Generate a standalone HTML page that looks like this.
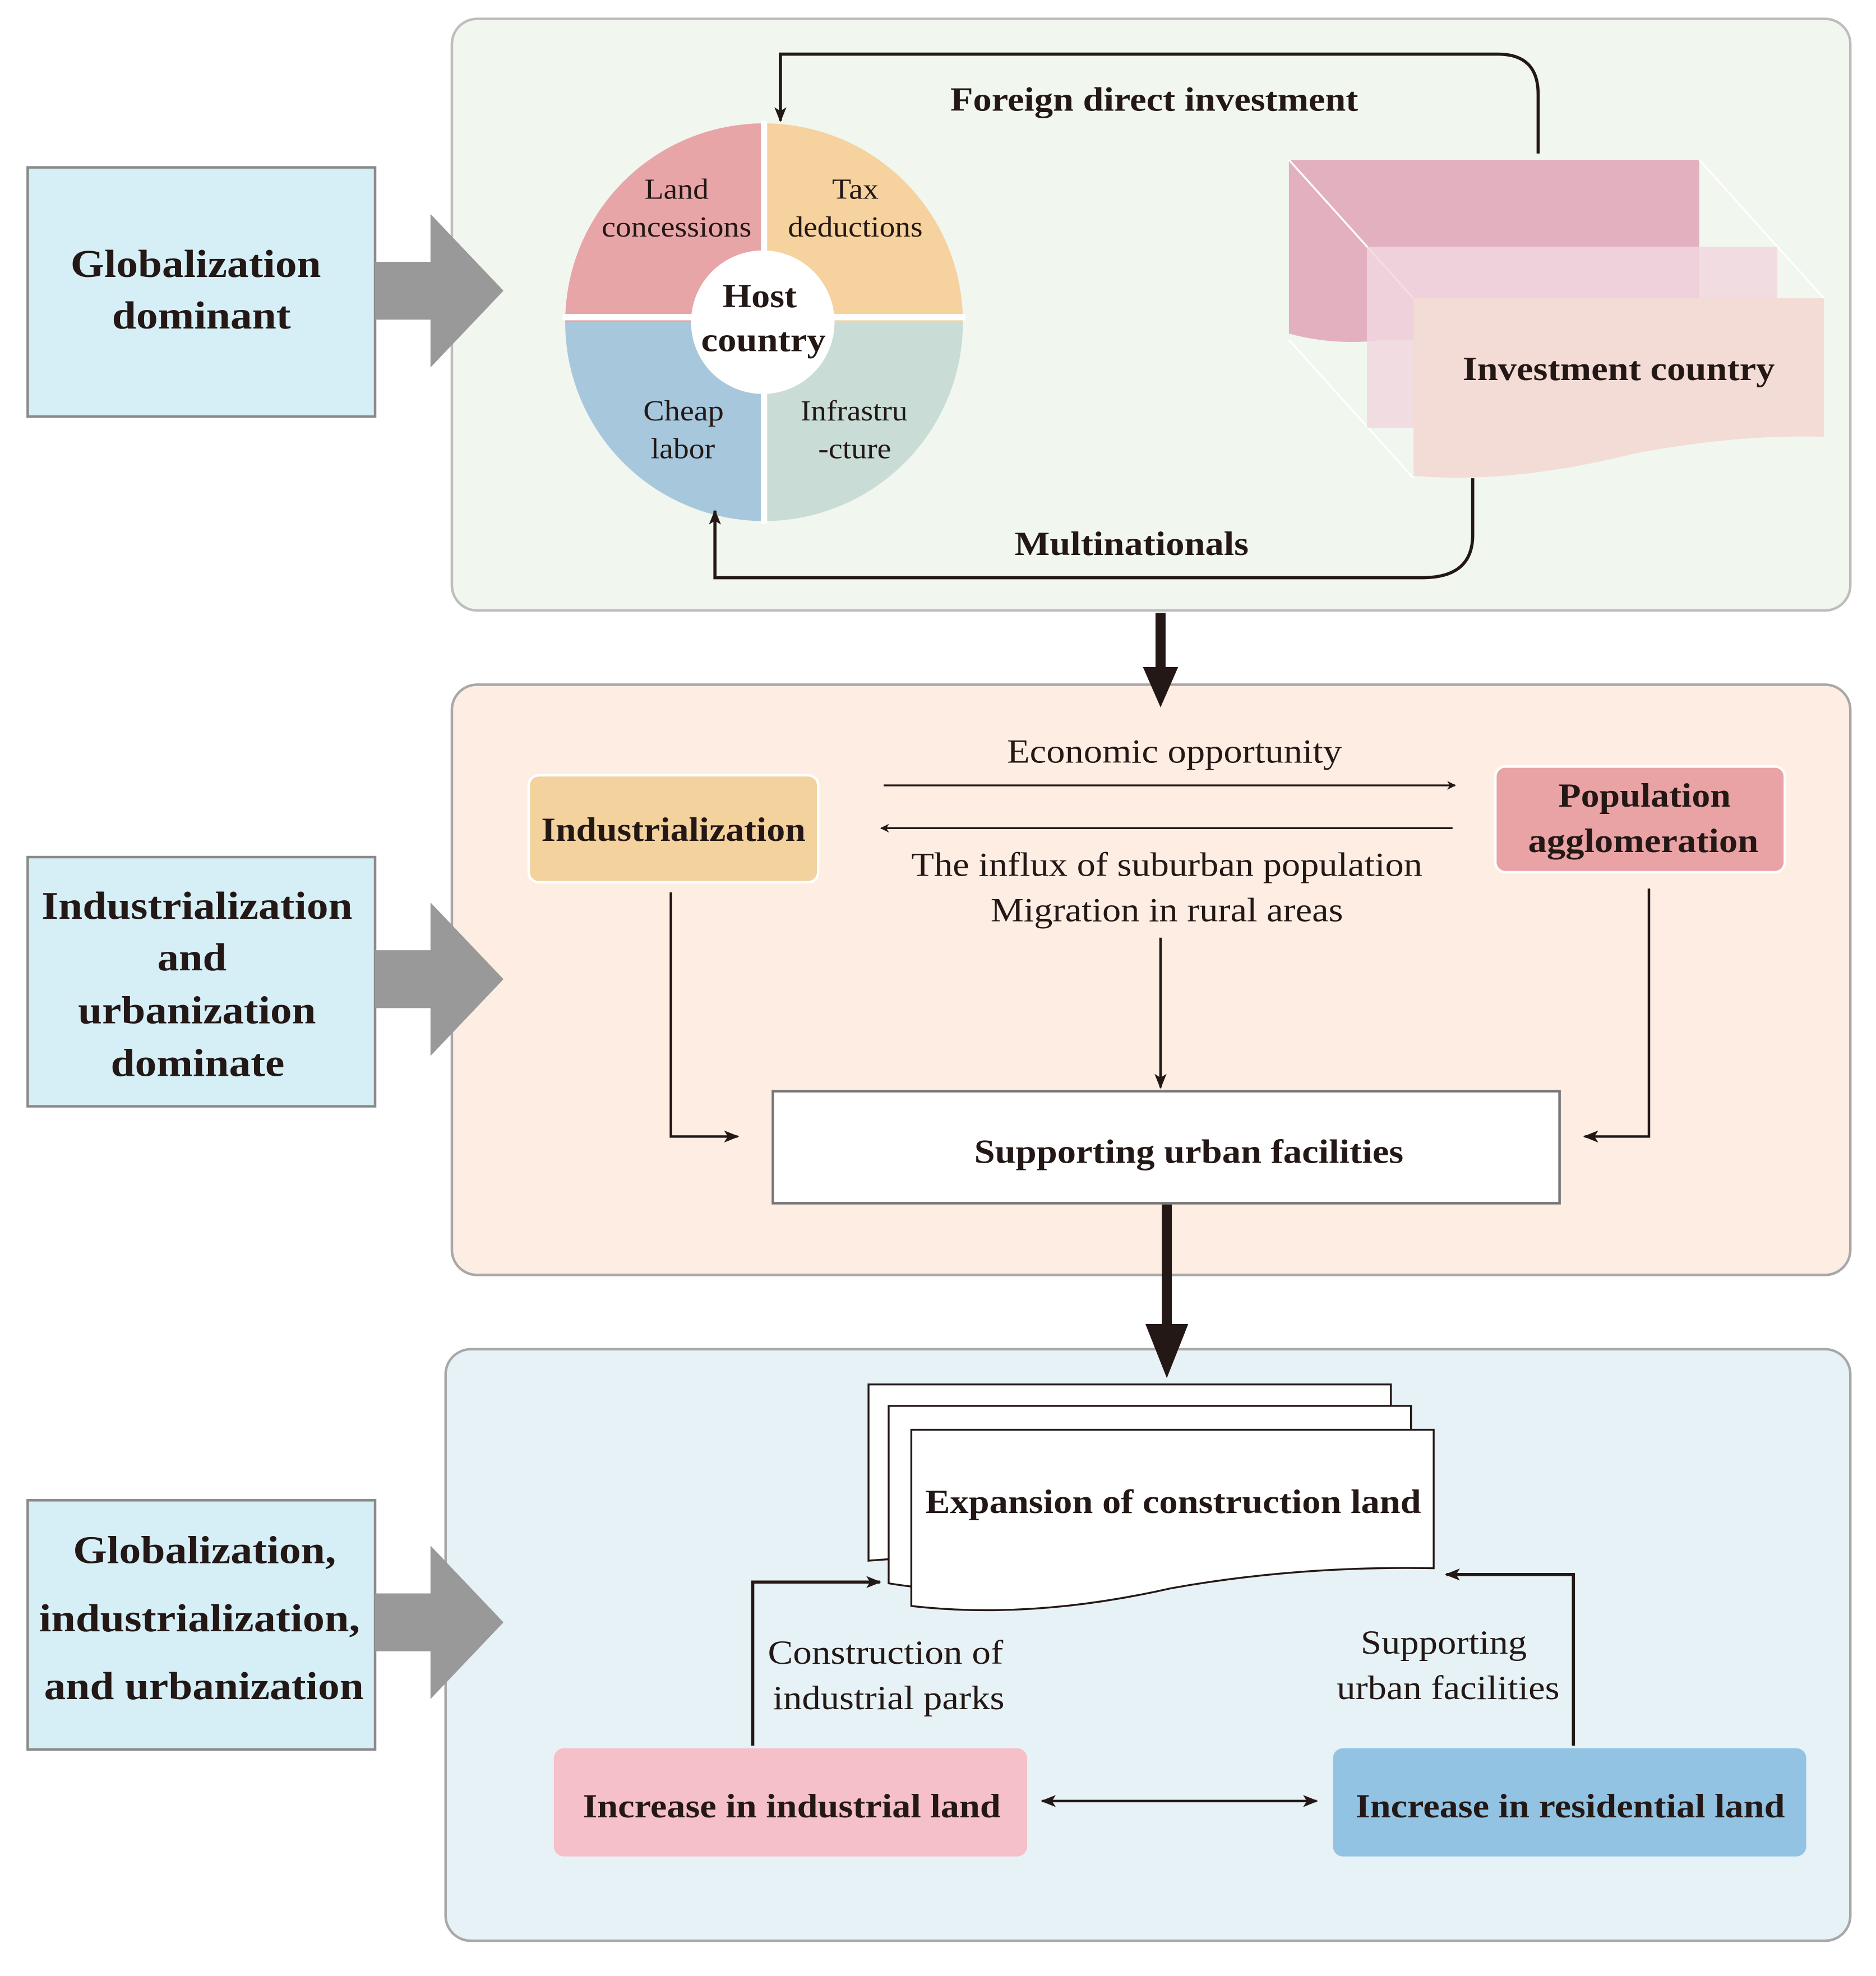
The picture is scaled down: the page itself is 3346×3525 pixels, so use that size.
<!DOCTYPE html>
<html><head><meta charset="utf-8"><style>
html,body{margin:0;padding:0;background:#fff}
svg{display:block}
text{font-family:"Liberation Serif",serif;fill:#231815}
.b{font-weight:bold}
</style></head><body>
<svg width="3346" height="3525" viewBox="0 0 1490.4 1570" preserveAspectRatio="none" xmlns="http://www.w3.org/2000/svg">
<defs>
<marker id="ah" viewBox="0 0 10 10" refX="9" refY="5" markerWidth="7" markerHeight="7" orient="auto-start-reverse" markerUnits="userSpaceOnUse"><path d="M0,0 L10,5 L0,10 L3,5 z" fill="#231815"/></marker>
<marker id="ahs" viewBox="0 0 10 10" refX="9" refY="5" markerWidth="12" markerHeight="12" orient="auto-start-reverse" markerUnits="userSpaceOnUse"><path d="M0,1 L10,5 L0,9 L2.5,5 z" fill="#231815"/></marker>
</defs>
<rect x="359" y="15" width="1111" height="470" rx="20" fill="#f1f6ef" stroke="#bdbdbd" stroke-width="2"/>
<rect x="359" y="544" width="1111" height="469" rx="20" fill="#fdede3" stroke="#a8a8a8" stroke-width="2"/>
<rect x="354" y="1072" width="1116" height="470" rx="20" fill="#e7f2f6" stroke="#a8a8a8" stroke-width="2"/>
<rect x="22" y="133" width="276" height="198" fill="#d6eef6" stroke="#8a8a8a" stroke-width="2"/>
<rect x="22" y="681" width="276" height="198" fill="#d6eef6" stroke="#8a8a8a" stroke-width="2"/>
<rect x="22" y="1192" width="276" height="198" fill="#d6eef6" stroke="#8a8a8a" stroke-width="2"/>
<g font-size="31" text-anchor="middle">
<text x="155.5" y="220" class="b" textLength="199" lengthAdjust="spacingAndGlyphs">Globalization</text>
<text x="160" y="261" class="b" textLength="142" lengthAdjust="spacingAndGlyphs">dominant</text>
<text x="156.5" y="730" class="b" textLength="247" lengthAdjust="spacingAndGlyphs">Industrialization</text>
<text x="152.5" y="771" class="b" textLength="55" lengthAdjust="spacingAndGlyphs">and</text>
<text x="156.5" y="813" class="b" textLength="189" lengthAdjust="spacingAndGlyphs">urbanization</text>
<text x="157" y="855" class="b" textLength="138" lengthAdjust="spacingAndGlyphs">dominate</text>
<text x="162.5" y="1242" class="b" textLength="209" lengthAdjust="spacingAndGlyphs">Globalization,</text>
<text x="158.5" y="1296" class="b" textLength="255" lengthAdjust="spacingAndGlyphs">industrialization,</text>
<text x="162" y="1350" class="b" textLength="254" lengthAdjust="spacingAndGlyphs">and urbanization</text>
</g>
<g fill="#999">
<polygon points="298,208 342,208 342,170 400,231 342,292 342,254 298,254"/>
<polygon points="298,755 342,755 342,717 400,778 342,839 342,801 298,801"/>
<polygon points="298,1266 342,1266 342,1228 400,1289 342,1350 342,1312 298,1312"/>
</g>
<path d="M607,256 L449,256 A158,158 0 0 1 607,98 Z" fill="#e8a5a8"/>
<path d="M607,256 L607,98 A158,158 0 0 1 765,256 Z" fill="#f5d29e"/>
<path d="M607,256 L765,256 A158,158 0 0 1 607,414 Z" fill="#c9dcd6"/>
<path d="M607,256 L607,414 A158,158 0 0 1 449,256 Z" fill="#a7c7dc"/>
<line x1="607" y1="96" x2="607" y2="416" stroke="#fff" stroke-width="5"/>
<line x1="447" y1="252" x2="767" y2="252" stroke="#fff" stroke-width="5"/>
<circle cx="606" cy="256" r="57" fill="#fff"/>
<g font-size="23" text-anchor="middle">
<text x="537.5" y="158" textLength="51" lengthAdjust="spacingAndGlyphs">Land</text>
<text x="537.5" y="188" textLength="119" lengthAdjust="spacingAndGlyphs">concessions</text>
<text x="679.5" y="158" textLength="37" lengthAdjust="spacingAndGlyphs">Tax</text>
<text x="679.5" y="188" textLength="107" lengthAdjust="spacingAndGlyphs">deductions</text>
<text x="543" y="334" textLength="64" lengthAdjust="spacingAndGlyphs">Cheap</text>
<text x="542.5" y="364" textLength="51" lengthAdjust="spacingAndGlyphs">labor</text>
<text x="678.5" y="334" textLength="85" lengthAdjust="spacingAndGlyphs">Infrastru</text>
<text x="679" y="364" textLength="58" lengthAdjust="spacingAndGlyphs">-cture</text>
</g>
<text x="603.5" y="244" font-size="27" text-anchor="middle" class="b" textLength="59" lengthAdjust="spacingAndGlyphs">Host</text>
<text x="606.5" y="279" font-size="27" text-anchor="middle" class="b" textLength="99" lengthAdjust="spacingAndGlyphs">country</text>
<path d="M1222,122 L1222,75 Q1222,43 1190,43 L620,43 L620,96" fill="none" stroke="#231815" stroke-width="2.5" marker-end="url(#ahs)"/>
<text x="917" y="88" font-size="27" text-anchor="middle" class="b" textLength="324" lengthAdjust="spacingAndGlyphs">Foreign direct investment</text>
<path d="M1170,380 L1170,425 Q1170,459 1130,459 L568,459 L568,406" fill="none" stroke="#231815" stroke-width="2.5" marker-end="url(#ahs)"/>
<text x="899" y="441" font-size="27" text-anchor="middle" class="b" textLength="186" lengthAdjust="spacingAndGlyphs">Multinationals</text>
<path d="M1024,127 L1350,127 L1350,270 L1100,270 Q1060,275 1024,265 Z" fill="#e2b0bf"/>
<line x1="1024" y1="127" x2="1123" y2="237" stroke="#fff" stroke-width="1.5"/>
<line x1="1350" y1="127" x2="1449" y2="237" stroke="#fff" stroke-width="1.5"/>
<line x1="1024" y1="270" x2="1123" y2="380" stroke="#fff" stroke-width="1.5"/>
<rect x="1086" y="196" width="326" height="144" fill="#f1d7df" opacity="0.85"/>
<path d="M1123,237 L1449,237 L1449,347 Q1380,345 1300,360 Q1200,385 1123,378 Z" fill="#f3dbd6"/>
<text x="1286" y="302" font-size="27" text-anchor="middle" class="b" textLength="248" lengthAdjust="spacingAndGlyphs">Investment country</text>
<line x1="922" y1="487" x2="922" y2="535" stroke="#231815" stroke-width="8"/>
<polygon points="908,530 936,530 922,562" fill="#231815"/>
<line x1="927" y1="957" x2="927" y2="1060" stroke="#231815" stroke-width="8"/>
<polygon points="910,1052 944,1052 927,1095" fill="#231815"/>
<rect x="420" y="616" width="230" height="85" rx="8" fill="#f3d29e" stroke="#fff" stroke-width="2"/>
<text x="535" y="668" font-size="27" text-anchor="middle" class="b" textLength="210" lengthAdjust="spacingAndGlyphs">Industrialization</text>
<rect x="1188" y="609" width="230" height="84" rx="8" fill="#e9a3a5" stroke="#fff" stroke-width="2"/>
<text x="1306.5" y="641" font-size="27" text-anchor="middle" class="b" textLength="137" lengthAdjust="spacingAndGlyphs">Population</text>
<text x="1305.5" y="677" font-size="27" text-anchor="middle" class="b" textLength="183" lengthAdjust="spacingAndGlyphs">agglomeration</text>
<line x1="702" y1="624" x2="1156" y2="624" stroke="#231815" stroke-width="1.5" marker-end="url(#ah)"/>
<line x1="1154" y1="658" x2="700" y2="658" stroke="#231815" stroke-width="1.5" marker-end="url(#ah)"/>
<g font-size="27" text-anchor="middle">
<text x="933" y="606" textLength="266" lengthAdjust="spacingAndGlyphs">Economic opportunity</text>
<text x="927" y="696" textLength="406" lengthAdjust="spacingAndGlyphs">The influx of suburban population</text>
<text x="927" y="732" textLength="280" lengthAdjust="spacingAndGlyphs">Migration in rural areas</text>
</g>
<line x1="922" y1="745" x2="922" y2="864" stroke="#231815" stroke-width="2" marker-end="url(#ahs)"/>
<path d="M533,709 L533,903 L586,903" fill="none" stroke="#231815" stroke-width="2" marker-end="url(#ahs)"/>
<path d="M1310,706 L1310,903 L1259,903" fill="none" stroke="#231815" stroke-width="2" marker-end="url(#ahs)"/>
<rect x="614" y="867" width="625" height="89" fill="#fff" stroke="#777" stroke-width="2"/>
<text x="944.5" y="924" font-size="27" text-anchor="middle" class="b" textLength="341" lengthAdjust="spacingAndGlyphs">Supporting urban facilities</text>
<path d="M690,1100 L1105,1100 L1105,1210 L690,1240 Z" fill="#fff" stroke="#231815" stroke-width="1.5"/>
<path d="M706,1117 L1121,1117 L1121,1228 Q1000,1230 900,1250 Q790,1272 706,1258 Z" fill="#fff" stroke="#231815" stroke-width="1.5"/>
<path d="M724,1136 L1139,1136 L1139,1246 Q1030,1244 930,1262 Q820,1287 724,1276 Z" fill="#fff" stroke="#231815" stroke-width="1.5"/>
<text x="932" y="1202" font-size="27" text-anchor="middle" class="b" textLength="394" lengthAdjust="spacingAndGlyphs">Expansion of construction land</text>
<rect x="440" y="1389" width="376" height="86" rx="8" fill="#f5c0c8"/>
<text x="629" y="1444" font-size="27" text-anchor="middle" class="b" textLength="332" lengthAdjust="spacingAndGlyphs">Increase in industrial land</text>
<rect x="1059" y="1389" width="376" height="86" rx="8" fill="#92c3e3"/>
<text x="1247.5" y="1444" font-size="27" text-anchor="middle" class="b" textLength="341" lengthAdjust="spacingAndGlyphs">Increase in residential land</text>
<line x1="828" y1="1431" x2="1046" y2="1431" stroke="#231815" stroke-width="2" marker-start="url(#ahs)" marker-end="url(#ahs)"/>
<path d="M598,1387 L598,1257 L699,1257" fill="none" stroke="#231815" stroke-width="2.5" marker-end="url(#ahs)"/>
<path d="M1250,1387 L1250,1251 L1149,1251" fill="none" stroke="#231815" stroke-width="2.5" marker-end="url(#ahs)"/>
<g font-size="27" text-anchor="middle">
<text x="703.5" y="1322" textLength="187" lengthAdjust="spacingAndGlyphs">Construction of</text>
<text x="706" y="1358" textLength="184" lengthAdjust="spacingAndGlyphs">industrial parks</text>
<text x="1147" y="1314" textLength="132" lengthAdjust="spacingAndGlyphs">Supporting</text>
<text x="1150.5" y="1350" textLength="177" lengthAdjust="spacingAndGlyphs">urban facilities</text>
</g>
</svg>
</body></html>
